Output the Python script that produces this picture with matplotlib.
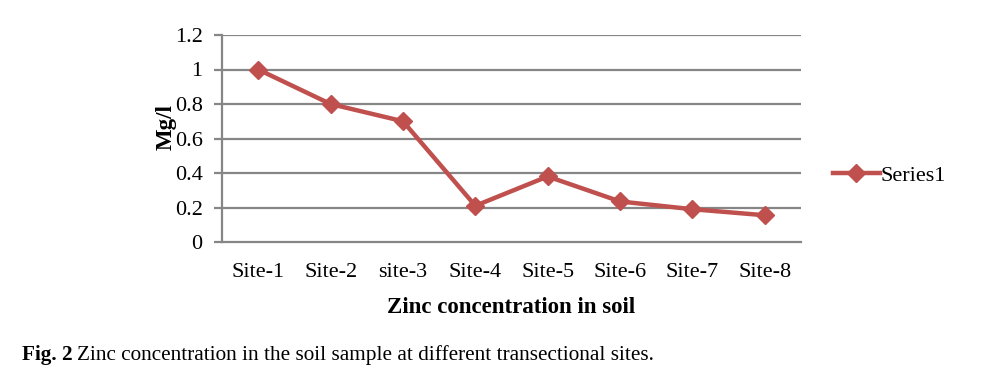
import matplotlib
matplotlib.use("Agg")
import matplotlib.pyplot as plt

sites = ["Site-1", "Site-2", "site-3", "Site-4", "Site-5", "Site-6", "Site-7", "Site-8"]
zinc = [1.0, 0.80, 0.70, 0.21, 0.38, 0.235, 0.19, 0.155]
yticks = [0, 0.2, 0.4, 0.6, 0.8, 1, 1.2]
ytick_labels = ["0", "0.2", "0.4", "0.6", "0.8", "1", "1.2"]

plt.rcParams['font.family'] = ['Liberation Serif', 'DejaVu Serif']

fig = plt.figure(figsize=(9.91, 3.83), dpi=100)
ax = fig.add_axes([222/991, 1-242/383, (801-222)/991, (242-35)/383])

red = "#C0504D"
grid = "#868686"
x = list(range(len(sites)))
ax.plot(x, zinc, color=red, lw=3.2, marker="D", markersize=9, label="Series1", zorder=3)

ax.set_xlim(-0.5, len(sites) - 0.5)
ax.set_ylim(0, 1.2)
ax.set_yticks(yticks)
ax.set_yticklabels(ytick_labels, fontsize=16)
ax.set_xticks(x)
ax.set_xticklabels(sites, fontsize=16)
ax.tick_params(axis='x', length=0, pad=15)
ax.tick_params(axis='y', length=6, width=1.6, color=grid, pad=8)
for yv in yticks[1:]:
    ax.axhline(yv, color=grid, lw=1.6, zorder=1)
for s in ["top", "right"]:
    ax.spines[s].set_visible(False)
ax.spines["left"].set_color(grid)
ax.spines["left"].set_linewidth(1.6)
ax.spines["bottom"].set_color(grid)
ax.spines["bottom"].set_linewidth(1.6)

ax.set_ylabel("Mg/l", fontsize=16.5, fontweight="bold")
ax.yaxis.set_label_coords((177-222)/579, (242-127)/207)
ax.set_xlabel("Zinc concentration in soil", fontsize=16.5, fontweight="bold", labelpad=11)

leg = ax.legend(loc="center left", bbox_to_anchor=(1.04, 0.32), frameon=False,
                fontsize=16, handlelength=2.1, handletextpad=0.05, borderaxespad=0)

t1 = fig.text(22/991, 1-355/383, "Fig. 2", fontsize=15.3, fontweight="bold", va="center", ha="left")
fig.canvas.draw()
bb = t1.get_window_extent()
fig.text((bb.x1 + 4)/991, 1-355/383, "Zinc concentration in the soil sample at different transectional sites.",
         fontsize=15.3, va="center", ha="left")

fig.savefig("out.png", dpi=100)
